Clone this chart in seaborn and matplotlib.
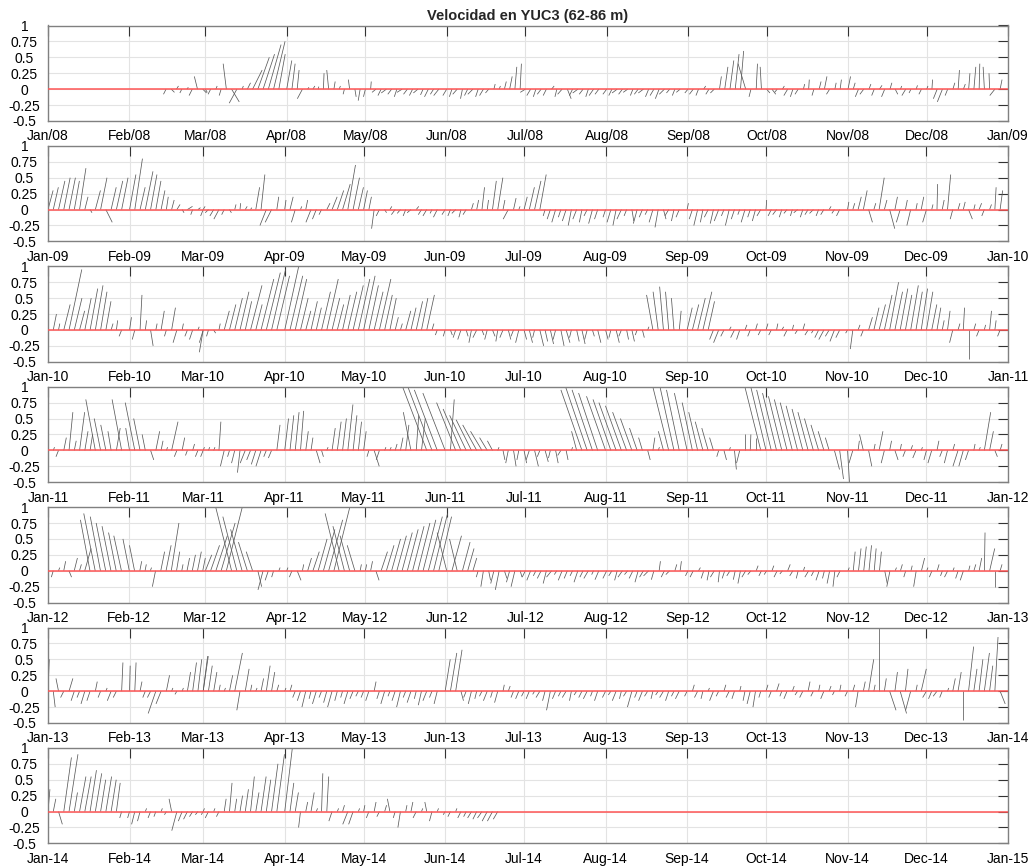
import numpy as np
import pandas as pd
import matplotlib
matplotlib.use("Agg")
import matplotlib.pyplot as plt
import seaborn as sns
from matplotlib.collections import LineCollection

# ---------------- data (cm/s, one stick every 2 days from the 1st of each month) -------------
years = [2008, 2009, 2010, 2011, 2012, 2013, 2014]
month_names = ["Jan", "Feb", "Mar", "Apr", "May", "Jun", "Jul", "Aug", "Sep", "Oct", "Nov", "Dec"]
ytick_vals = [-0.5, -0.25, 0, 0.25, 0.5, 0.75, 1]
ytick_labels = ["-0.5", "-0.25", "0", "0.25", "0.5", "0.75", "1"]
title_text = "Velocidad en YUC3 (62-86 m)"

N = None
v_2008 = [[],
          [N, N, N, N, N, N, N, -8, -5, 5, -6, 3, -10, 20, -6],
          [-5, -8, 5, -10, 40, -20, -22, 5, 10, 30, 50, 55, 70, 75, 55],
          [45, 40, 30, -15, 3, 5, 4, 25, 30, 12, 5, -8, 15, -12, -18],
          [-12, 12, -5, -10, -6, -8, -12, -5, -8, -10, -6, -9, -12, -8, -10],
          [-10, -12, -8, -15, -10, -8, -12, -10, -6, 8, 5, 12, 20, 35, 40],
          [-5, -10, -12, -8, -10, 5, -12, -8, -15, -10, -6, -8, -12, -10, -8],
          [-8, -10, -6, -8, -5, -10, -8, -6, -12, -10, -15, -8, -6, -10, -5],
          [-6, -8, -10, 5, -8, -6, 20, 35, 45, 55, 60, 40, -12, 40, 35],
          [-6, -8, -5, 5, -10, -12, -8, 8, 15, -10, 12, 20, -8, 10, 15],
          [20, 10, -12, -8, 8, -10, 6, -12, 10, -8, 5, -10, -6, 6, -8],
          [5, 15, -15, -20, -10, 10, 30, 8, 25, 35, 40, 35, 25, -10, 15]]
u_2008 = [[],
          [0, 0, 0, 0, 0, 0, 0, -4, 5, 3, -3, 2, -5, -5, 6],
          [3, -4, 2, -3, -5, 12, -12, 2, 5, 15, 18, 18, 20, 18, 10],
          [8, 5, 3, -8, 2, 3, 1, 1, -3, 2, 2, -2, -2, 2, -3],
          [-3, 1, -6, -5, -8, -6, -4, -8, -6, -5, -7, -4, -6, -5, -8],
          [-6, -4, -7, -3, -5, -8, -4, -6, -5, 2, 2, 3, 4, 3, 2],
          [-8, -6, -4, -6, -5, 4, -3, -7, 6, -5, -8, -6, -4, -7, -6],
          [-6, -5, -8, -6, -7, -4, -6, -8, -5, -6, -6, -8, -5, -4, -6],
          [-5, -6, -4, 3, -5, -6, 3, 5, 6, 6, 5, -12, -3, 2, -2],
          [5, 6, -4, 3, -6, -4, -5, 2, 1, -3, 3, 4, -5, 2, 2],
          [4, 3, -5, -6, 3, -4, 4, -5, 3, 4, 2, -6, -3, 2, -4],
          [2, 1, -6, -8, -4, 3, 2, 3, 2, 3, 1, -2, -1, -8, 3]]

v_2009 = [[30, 35, 45, 50, 50, 45, 65, 20, -5, 30, 50, -20, 35, 45, 50],
          [55, 80, 35, 60, 55, 45, 30, 20, 15, 8, -5, 5, -8, 3, -10],
          [5, -5, -10, -15, -8, -5, 8, 10, 5, 3, 35, 55, -25, -20, 20],
          [15, 20, -20, 5, 15, -20, -15, -8, 10, 20, 30, 40, 70, 50, 35],
          [30, 20, -30, -10, -5, 5, -8, -6, -10, -5, 5, -8, -10, -6, -12],
          [-8, -10, -6, -12, -8, 10, 15, 35, 15, 45, 50, 15, -15, 18, 5],
          [20, 35, 45, 55, -10, -15, -20, -12, -18, -25, -15, -20, -10, -22, -15],
          [-12, -20, -25, -15, -10, -18, -22, -12, -8, -20, -28, -15, -10, -18, -12],
          [10, -15, -25, -20, -12, -22, -18, -10, -25, -15, -8, -20, -12, -18, -10],
          [15, -10, -8, -12, -6, -10, -5, -12, -8, -6, -10, -8, 5, -6, -10],
          [12, 10, 20, 30, -20, 10, 50, 15, -30, 20, -20, 15, -25, 10, 20],
          [-20, 8, 40, 15, 55, -15, 10, 12, -15, 8, 10, -10, 8, 35, 30]]
u_2009 = [[8, 8, 10, 10, 10, 8, 10, 5, 3, 8, 10, 10, 8, 10, 10],
          [10, 12, 8, 12, 10, 8, 6, 3, 4, 5, 3, 8, -3, 4, -4],
          [3, -5, -6, -8, -4, 3, 2, 1, 3, 2, 6, 6, -10, -10, 3],
          [2, 5, -6, 2, 3, -8, -6, -4, 5, 8, 10, 12, 12, 10, 8],
          [6, 4, -4, -5, 3, 3, -6, -5, -4, -6, 4, -5, -6, -3, -6],
          [-5, -4, -6, -3, -5, 3, 3, 4, 2, 6, 8, 3, -8, 4, 2],
          [5, 8, 10, 10, -3, -5, -6, -4, -6, -5, -6, -4, -5, -6, -5],
          [-4, -6, -5, -7, -4, 3, -6, -5, -4, -6, -5, 4, -6, -4, -5],
          [2, -5, -6, -4, -6, -5, -7, -4, -6, -5, -3, -6, -4, -5, -6],
          [1, -5, -6, -4, -5, -3, -6, -4, -5, -6, -4, -5, 3, -4, -5],
          [2, 3, 5, 6, 6, 3, 8, 4, 8, 4, -6, 3, -6, 2, 4],
          [-6, 2, 1, 3, 5, -4, 3, 3, 6, 2, 4, -4, 3, 2, 4]]

v_2010 = [[-15, 25, 10, 40, 95, 50, 30, 50, 65, 70, 60, 45, 10, 15, -10],
          [20, -15, 55, 15, -25, 10, 30, -10, 35, -20, 10, -10, -15, 5, -20],
          [-35, -10, -5, 10, 30, 40, 50, 60, 45, 70, 40, 80, 90, 95, 85],
          [100, 85, 80, 50, 30, 45, 35, 60, 80, 50, 40, 55, 60, 70, 80],
          [85, 70, 60, 80, 55, 50, 20, 10, 30, 35, 45, 50, 55, 10, -8],
          [-10, -8, -12, -15, -10, -20, -12, -8, -15, -10, -18, -12, -15, -10, -20],
          [-15, -20, -12, -25, -18, -22, -15, -25, -20, -12, -18, -22, -15, -10, -20],
          [-15, -12, -20, -10, -15, -18, -8, -12, 5, 55, 60, 68, 60, 50, 30],
          [35, 40, 50, 60, 45, -15, -20, -10, 5, -12, -15, 8, -10, 10, -8],
          [10, -8, 10, 5, -10, 8, -6, 10, -8, -5, -12, -15, -10, -18, -12],
          [-5, -30, 8, -10, 20, 35, 40, 55, 75, 60, 65, 55, 70, 60, 65],
          [60, 40, 35, 15, 30, -20, 10, 35, -45, 10, -10, 8, 30, 15, -10]]
u_2010 = [[-3, 5, 2, 10, 20, 12, 8, 10, 12, 12, 10, 8, 3, 2, -4],
          [3, -4, 3, 2, 4, 2, 5, -3, 6, -6, 2, -4, -5, 2, -6],
          [-6, -3, 3, 2, 8, 10, 12, 14, 10, 18, 10, 20, 22, 22, 20],
          [22, 20, 18, 12, 8, 10, 8, 14, 18, 12, 10, 12, 14, 16, 18],
          [18, 15, 14, 18, 12, 10, 5, 3, 8, 8, 10, 10, 12, 3, -3],
          [-3, 3, -4, -5, 3, -4, -6, 3, -4, 4, -3, -5, 4, -4, -5],
          [4, 5, -3, 6, 4, 5, -4, 5, 6, -3, 4, 5, -4, 3, 5],
          [4, -3, 5, -4, 3, 4, -3, 3, 2, -10, -8, -6, -5, -4, 3],
          [8, 10, 12, 14, 10, -6, -8, -5, 3, -6, -5, 3, -4, 3, -4],
          [3, -4, 2, 3, -5, 2, -4, 3, -5, -3, -6, -8, -6, -7, -6],
          [-3, -4, 3, -4, 6, 8, 10, 12, 14, 12, 12, 10, 12, 10, 10],
          [10, 8, 6, 3, 4, -5, 3, 2, 0, 3, -4, 2, 3, 2, -4]]

v_2011 = [[-20, 5, -10, 20, 60, 15, 60, 30, 25, 80, 50, 40, 30, 35, 80],
          [35, 75, 50, 25, -15, 30, 15, 5, 45, -10, 20, -8, 10, -10, 5],
          [-10, 5, 5, 45, -25, -10, -20, -35, -20, -15, -22, -25, -10, -12, 40],
          [50, 55, 60, 62, 30, 20, -20, -10, 5, 35, 45, 50, 72, 55, 45],
          [30, -10, -25, -15, 5, 5, 10, 20, 40, 60, 55, 50, 100, 100, 95],
          [90, 80, 75, 65, 55, 48, 40, 30, 20, 15, 5, -15, -20, -25, -15],
          [-20, -15, -25, -10, -18, -12, -20, -8, -15, 5, 30, 95, 100, 95, 90],
          [85, 80, 75, 70, 60, 50, 35, 20, -15, 20, 5, 30, 100, 100, 95],
          [90, 75, 60, 45, 35, 20, -10, -15, 5, -30, -20, 25, 25, 20, 100],
          [100, 95, 90, 85, 80, 75, 70, 65, 60, 50, 40, 30, 20, -30, -45],
          [-50, -20, 15, 25, -25, 10, 30, -20, 15, -15, 10, -10, 8, -12, 5],
          [-15, -20, 15, -10, -20, 10, -25, -25, -15, 10, 5, 60, 30, -10, 10]]
u_2011 = [[-6, 2, -4, 4, 6, 3, 8, 5, 4, -15, -10, -8, -5, 6, -15],
          [-6, -15, -10, -5, 5, 6, 3, 2, 10, -4, 4, -3, 3, -4, 2],
          [-4, 2, 2, 3, -6, -3, -5, -4, -8, -6, -7, -8, -4, -5, 5],
          [6, 6, 6, 5, 4, 3, 6, 3, 2, 5, 6, 6, 8, 6, 5],
          [4, -3, 8, -5, 2, 2, 3, 4, 5, -12, 4, 6, -38, -38, -36],
          [-35, 6, -30, -28, -26, -24, -22, -18, -12, -8, 2, 3, -4, 4, -3],
          [4, -5, 6, -4, 5, -3, 4, -5, 3, 2, -8, -33, -34, -32, -30],
          [-30, -28, -27, -25, -22, -18, -12, -6, 4, 3, 2, -8, -25, -22, -20],
          [-20, -16, -14, -12, -10, -6, -3, 4, 2, 3, -5, 0, 1, 0, -25],
          [-24, -23, -22, -21, -20, -19, -18, -17, -16, -14, -12, -9, -6, 8, 6],
          [3, -6, 2, -6, 5, 2, 6, -5, 3, 5, 2, -4, 3, -5, 2],
          [-4, -6, 3, -4, -5, 3, -8, -7, -5, 2, 2, 10, 6, 4, 3]]

v_2012 = [[-20, -10, 5, 15, -10, 20, 10, 35, 80, 90, 85, 75, 70, 60, 55],
          [50, 40, 15, 10, 5, -25, 30, 40, 75, 30, 10, 20, 25, 30, 20],
          [25, 40, 55, 75, 100, 100, 85, 65, 45, 30, -25, -30, -15, -10, 5],
          [5, -10, -15, 10, 20, 30, 50, 65, 80, 100, 90, 70, 55, 40, 10],
          [10, 15, -15, 30, 40, 50, 55, 60, 65, 70, 75, 80, 85, 90, 85],
          [60, 55, 50, 45, 35, 20, -10, -25, -15, -20, -30, -12, -18, -25, -10],
          [-10, -15, -8, -12, -20, -10, -6, -15, -12, -8, -18, -10, -12, -6, -14],
          [-12, -8, -15, -10, -6, -12, -18, -10, -8, -14, 15, -10, -6, 10, 15],
          [-8, -10, 5, -12, -15, -10, -18, -12, -8, -14, -20, -10, -6, 8, -8],
          [-6, 8, -10, -5, 10, -8, -12, 6, -10, -8, -15, -12, -20, -25, -10],
          [5, 30, 35, 38, 40, 35, 30, -20, -25, 5, 10, -10, 8, -25, 20],
          [5, -10, 10, -8, -10, 5, -12, -15, 8, 10, 20, 60, 35, -25, 10]]
u_2012 = [[-5, -3, 2, 3, 4, 5, 3, 10, -15, -18, -16, -15, -14, -12, -12],
          [-10, -8, 3, 2, 2, -5, 6, 8, 12, 5, 2, 4, 5, 6, 4],
          [10, 14, 18, 22, 25, -25, -22, -18, -14, -10, 6, -8, -5, -3, 2],
          [2, -4, 6, 2, 6, 10, 14, 18, 22, 25, -22, -18, -15, -12, 2],
          [2, 3, 5, 10, 12, 14, 15, 16, 17, 18, 19, 20, 22, 22, 20],
          [-15, 15, -12, 12, 10, 6, -3, -4, 3, -5, -6, 4, -5, -6, 3],
          [-5, -6, -4, -6, -5, -8, -4, -6, -5, -4, -6, -5, -7, -3, -6],
          [-6, -5, -4, -7, -5, -6, -5, -6, -8, -4, 2, -5, -6, 3, 2],
          [-4, -5, 3, -4, -3, -6, -2, -4, -5, -3, -4, -6, -5, 3, -4],
          [-4, 3, -5, -4, 4, -5, -3, 2, -6, -4, -5, -3, -4, -3, -5],
          [2, 3, 4, 4, 4, 3, 3, 4, -5, 2, 3, -3, 2, -4, 5],
          [2, -4, 3, -3, -5, 2, -4, -5, 2, 3, 4, 1, 8, 0, 3]]

v_2013 = [[50, -25, 20, -10, 20, -15, -10, -20, -15, 15, -10, 5, -15, -10, 45],
          [40, 45, 15, -10, -10, -35, -20, 25, 5, -5, 5, 30, 45, 50, 55],
          [55, 40, 30, 10, 5, 25, 60, -30, 35, 10, 5, 20, 40, 30, 10],
          [5, 10, -10, -15, -25, -12, -20, -10, -18, -25, -15, -10, -20, -12, -8],
          [-10, -15, 15, -12, -20, -8, -15, -25, -10, -18, -12, -22, -15, -10, -20],
          [50, 60, 65, -15, -10, -20, -12, -8, -15, -10, -18, 10, 8, -10, -12],
          [-8, -12, -5, -10, -15, -30, -12, -8, -10, -15, -6, -10, -12, -8, -15],
          [-10, -6, -15, -12, -8, -25, -10, -15, -8, -12, -6, -10, -15, -8, -12],
          [-8, 10, -10, -12, 5, -15, -8, 10, -10, -12, 8, -15, -20, -25, -10],
          [10, -10, 12, -8, -12, 8, -6, -10, 15, -8, 10, -12, 8, -6, 10],
          [-8, 10, -25, 15, 50, 10, 100, 20, -30, 30, -35, 35, -30, 10, 35],
          [-10, -12, -8, -10, 5, 20, 30, -45, 70, 35, 50, 60, 40, 85, -20]]
u_2013 = [[2, 3, -4, -5, 6, -5, -4, -6, -5, 3, -4, 2, -6, -5, 2],
          [1, 2, 3, -4, -5, -12, -8, 5, 2, -3, 2, 5, 6, 6, 7],
          [8, 6, 5, 2, 2, 5, 12, -5, 6, 2, 2, 4, 6, 5, 3],
          [2, 3, -4, -5, -6, -3, -6, -4, -5, -7, -4, -3, -6, -5, -4],
          [-4, -5, 3, -4, -6, -3, -5, -6, -4, -6, -3, -5, -6, -4, -5],
          [8, 10, 10, 4, -4, -5, -3, -4, -6, -3, -5, 2, 3, -4, -5],
          [-4, -5, -3, -6, -4, -6, -5, -4, -6, -3, -4, -5, -6, -3, -5],
          [-5, -4, -6, -3, -5, -7, -4, -6, -5, -3, -4, -6, -5, -4, -6],
          [-4, 3, -5, -3, 2, -6, -4, 3, -5, -4, 2, -3, -5, -4, -3],
          [3, -4, 4, -3, -5, 3, -4, -5, 3, -4, 2, -5, 3, -3, 2],
          [-4, 3, -4, 3, 8, 2, 0, 3, 10, 4, 10, 4, -8, 2, 8],
          [-6, -5, -6, -4, 2, 4, 5, 0, 8, 5, 6, 8, 5, 5, 8]]

v_2014 = [[35, 20, -20, 85, 90, 30, 55, 55, 65, 60, 50, 55, 50, 45, -10],
          [-10, -20, -15, 5, -10, -8, 5, -5, 20, -30, -15, -12, -8, -5, 5],
          [-5, -10, 5, -8, 20, 45, 20, 25, 35, 55, 30, 55, 50, 75, 90],
          [100, 45, 30, -25, 15, 30, 5, 60, 55, -15, 5, 10, -20, -20, 5],
          [10, -10, 15, -8, 10, 20, -10, -25, 10, 15, -10, 5, 15, -15, 5],
          [-5, -8, 5, -10, -8, -10, -12, -10, -15, -15, -12],
          [], [], [], [], [], []]
u_2014 = [[3, 4, 6, 12, 14, 5, 10, 10, 10, 10, 8, 9, 8, 6, -3],
          [-3, -5, -4, 2, -4, -3, 2, -3, -4, -8, -6, -6, -5, -4, 2],
          [-3, -5, 2, -4, 3, 4, 3, 4, 5, 6, 5, 8, 7, 10, 12],
          [12, 6, 5, -3, 3, 5, 2, 2, 3, -5, 2, 3, -8, -7, 2],
          [2, -4, 3, -4, 3, -4, -3, -4, 2, 3, -5, 2, -3, -4, 2],
          [-3, -4, 2, -5, -4, -6, -6, -7, -8, -8, -7],
          [], [], [], [], [], []]

v_by_year = {2008: v_2008, 2009: v_2009, 2010: v_2010, 2011: v_2011,
             2012: v_2012, 2013: v_2013, 2014: v_2014}
u_by_year = {2008: u_2008, 2009: u_2009, 2010: u_2010, 2011: u_2011,
             2012: u_2012, 2013: u_2013, 2014: u_2014}

# ---------------- drawing ----------------
sns.set_theme(style="white")
plt.rcParams["font.family"] = ["Liberation Sans", "DejaVu Sans"]

W, H = 1032, 868
fig = plt.figure(figsize=(W / 100, H / 100), dpi=100)
left_px, right_px = 48, 1008
top0, step, hpx = 25.5, 120.4, 95.5

for i, yr in enumerate(years):
    top = top0 + i * step
    ax = fig.add_axes([left_px / W, 1 - (top + hpx) / H, (right_px - left_px) / W, hpx / H])
    ndays = 366 if pd.Timestamp(yr, 12, 31).dayofyear == 366 else 365
    # isotropic stick scaling: days per (m/s)
    scale = (ndays / (right_px - left_px)) / (1.5 / hpx)

    segs = []
    for m in range(12):
        start = pd.Timestamp(yr, m + 1, 1).dayofyear - 1
        for k, (vv, uu) in enumerate(zip(v_by_year[yr][m], u_by_year[yr][m])):
            if vv is None:
                continue
            t = start + 2 * k
            segs.append([(t, 0.0), (t + uu / 100.0 * scale, vv / 100.0)])
    ax.add_collection(LineCollection(segs, colors="#5a5a5a", linewidths=0.55, zorder=2))

    sns.lineplot(x=[0, ndays], y=[0, 0], ax=ax, color="#ff5555", linewidth=1.1, zorder=3)

    ax.set_xlim(0, ndays)
    ax.set_ylim(-0.5, 1)
    sep = "/" if yr == 2008 else "-"
    xt = [pd.Timestamp(yr, m, 1).dayofyear - 1 for m in range(1, 13)] + [ndays]
    xl = [f"{month_names[m]}{sep}{yr % 100:02d}" for m in range(12)] + [f"Jan{sep}{(yr + 1) % 100:02d}"]
    ax.set_xticks(xt)
    ax.set_xticklabels(xl)
    ax.set_yticks(ytick_vals)
    ax.set_yticklabels(ytick_labels)
    for lab in ax.get_yticklabels():
        lab.set_horizontalalignment("center")
    ax.set_xlabel("")
    ax.set_ylabel("")
    ax.grid(True, color="#e3e3e3", linewidth=0.8)
    ax.set_axisbelow(True)
    ax.tick_params(axis="both", direction="in", length=7, width=0.8, color="#333333",
                   top=True, right=True, labeltop=False, labelright=False,
                   labelsize=10, labelcolor="black")
    ax.tick_params(axis="y", pad=17)
    ax.tick_params(axis="x", pad=6)
    for sp in ax.spines.values():
        sp.set_color("#808080")
        sp.set_linewidth(1.0)
    if i == 0:
        ax.set_title(title_text, fontweight="bold", fontsize=10.5, pad=4)

fig.savefig("out.png", dpi=100)
